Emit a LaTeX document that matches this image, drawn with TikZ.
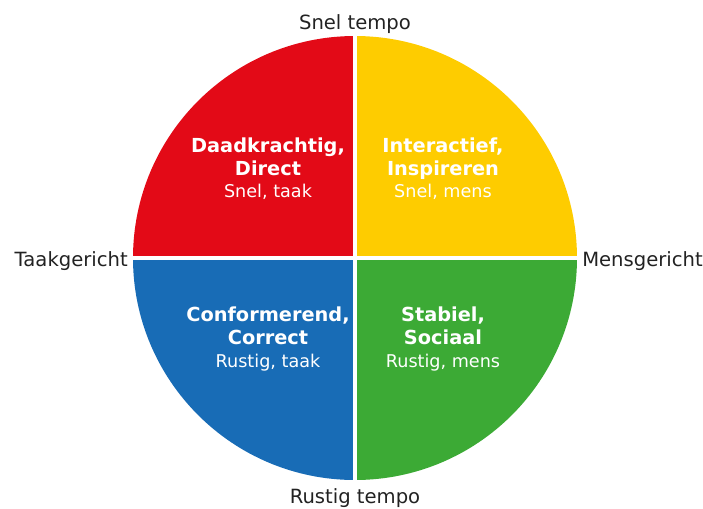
\documentclass[tikz,border=0pt]{standalone}
\usepackage{fontspec}
\setmainfont{DejaVu Sans}
\usepackage{xcolor}
\definecolor{discred}{RGB}{227,10,23}
\definecolor{discyellow}{RGB}{254,204,0}
\definecolor{discblue}{RGB}{24,108,182}
\definecolor{discgreen}{RGB}{60,170,53}
\definecolor{axistext}{RGB}{34,34,34}
\usepackage{tikz}
\usetikzlibrary{positioning}

\begin{document}
\begin{tikzpicture}[x=0.75pt, y=0.75pt,
    axislabel/.style={text=axistext, font=\fontsize{14.7}{17}\selectfont, inner sep=0pt},
    stylelabel/.style={text=white, align=center, inner sep=0pt, font=\fontsize{14.5}{17}\selectfont\bfseries},
    subline/.style={font=\fontsize{13.2}{17}\selectfont\mdseries}]
    \useasboundingbox (-355,-250) rectangle (348,258);

    % Four quadrants of the circle
    \fill[discred]    (0,0) -- (180:222) arc (180:90:222) -- cycle;
    \fill[discyellow] (0,0) -- (90:222) arc (90:0:222) -- cycle;
    \fill[discgreen]  (0,0) -- (0:222) arc (0:-90:222) -- cycle;
    \fill[discblue]   (0,0) -- (-90:222) arc (-90:-180:222) -- cycle;

    % White cross between the quadrants
    \coordinate (N) at (0,224);
    \coordinate (S) at (0,-224);
    \coordinate (W) at (-224,0);
    \coordinate (E) at (224,0);
    \draw[white, line width=3.6pt] (N) -- (S);
    \draw[white, line width=3.6pt] (W) -- (E);

    % Axis labels
    \node[axislabel, anchor=base] (snel) at (0,229) {Snel tempo};
    \node[axislabel, anchor=base] (rustig) at (0,-245) {Rustig tempo};
    \node[axislabel, anchor=base east] (taak) at (-227,-8) {Taakgericht};
    \node[axislabel, anchor=base west] (mens) at (227,-8) {Mensgericht};

    % Quadrant labels
    \node[stylelabel] (red) at (-87,89) {Daadkrachtig,\\Direct\\{\fontsize{13.2}{17}\selectfont\mdseries Snel, taak}};
    \node[stylelabel] (yellow) at (88,89) {Interactief,\\Inspireren\\{\fontsize{13.2}{17}\selectfont\mdseries Snel, mens}};
    \node[stylelabel] (blue) at (-87,-81) {Conformerend,\\Correct\\{\fontsize{13.2}{17}\selectfont\mdseries Rustig, taak}};
    \node[stylelabel] (green) at (88,-81) {Stabiel,\\Sociaal\\{\fontsize{13.2}{17}\selectfont\mdseries Rustig, mens}};
\end{tikzpicture}
\end{document}
